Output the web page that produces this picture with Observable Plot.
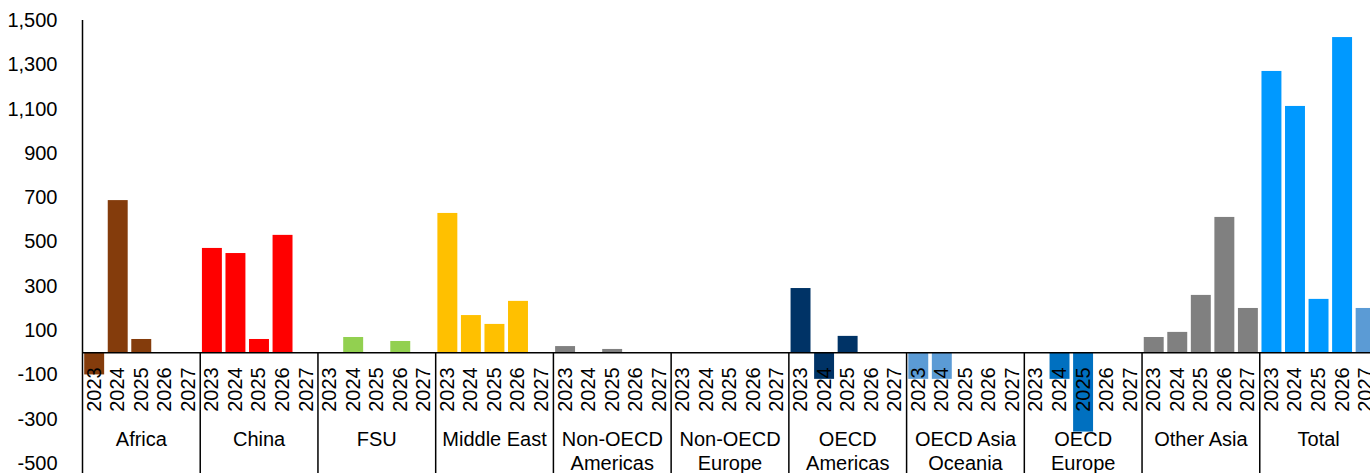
<!DOCTYPE html>
<html>
<head>
<meta charset="utf-8">
<script src="https://cdn.jsdelivr.net/npm/d3@7"></script>
<script src="https://cdn.jsdelivr.net/npm/@observablehq/plot@0.6"></script>
<style>
  html, body { margin: 0; padding: 0; background: #fff; overflow: hidden; }
  #chart svg { display: block; }
</style>
</head>
<body>
<div id="chart"></div>
<script>
const groups = ["Africa", "China", "FSU", "Middle East", "Non-OECD\nAmericas", "Non-OECD\nEurope",
  "OECD\nAmericas", "OECD Asia\nOceania", "OECD\nEurope", "Other Asia", "Total"];
const years = ["2023", "2024", "2025", "2026", "2027"];

const africa = [-100, 687, 60, 0, 0];
const china = [471, 448, 60, 530, 0];
const fsu = [0, 69, 0, 51, 0];
const middleEast = [629, 168, 128, 232, 0];
const nonOecdAmericas = [28, 0, 15, 0, 0];
const nonOecdEurope = [0, 0, 0, 0, 0];
const oecdAmericas = [290, -120, 74, 0, 0];
const oecdAsiaOceania = [-120, -120, 0, 0, 0];
const oecdEurope = [0, -120, -358, 0, 0];
const otherAsia = [69, 92, 259, 611, 200];
const total = [1270, 1112, 241, 1423, 200];

const groupColors = ["#843C0C", "#FF0000", "#92D050", "#FFC000", "#808080", "#808080",
  "#003366", "#5B9BD5", "#0070C0", "#808080", "#0099FF"];
const totalLastColor = "#5B9BD5";

const yTicks = [-500, -300, -100, 100, 300, 500, 700, 900, 1100, 1300, 1500];
const yDomain = [-545, 1500];

const series = [africa, china, fsu, middleEast, nonOecdAmericas, nonOecdEurope,
  oecdAmericas, oecdAsiaOceania, oecdEurope, otherAsia, total];

const rows = [];
groups.forEach((g, i) => {
  years.forEach((yr, j) => {
    rows.push({group: g, gi: i, year: yr, value: series[i][j], pos: i * years.length + j,
      color: (g === "Total" && j === years.length - 1) ? totalLastColor : groupColors[i]});
  });
});
const groupRows = groups.map((g, i) => ({group: g, start: i * years.length, mid: i * years.length + years.length / 2}));

const n = groups.length * years.length;

const chart = Plot.plot({
  width: 1370,
  height: 473,
  marginTop: 20,
  marginBottom: 0,
  marginLeft: 82,
  marginRight: 0,
  style: {fontFamily: "'Liberation Sans', Arial, sans-serif", fontSize: "20px", color: "#000", background: "#fff"},
  x: {type: "linear", domain: [0, n], range: [82, 1377], axis: null},
  y: {domain: yDomain, axis: null},
  color: {type: "identity"},
  marks: [
    Plot.rect(rows, {x1: "pos", x2: d => d.pos + 1, y1: 0, y2: "value", fill: "color", insetLeft: 2.2, insetRight: 1.4}),
    Plot.text(rows, {x: d => d.pos + 0.5, y: 0, text: "year", rotate: -90, textAnchor: "start", lineAnchor: "middle",
      dy: 59, fontSize: 20, fill: "#000"}),
    Plot.text(groupRows, {x: "mid", y: 0, text: "group", lineAnchor: "top", dy: 76, fontSize: 20, lineHeight: 1.2, fill: "#000"}),
    Plot.ruleX(groupRows.slice(1), {x: "start", y1: 0, y2: yDomain[0], stroke: "#000", strokeWidth: 1.5}),
    Plot.ruleX([0], {stroke: "#000", strokeWidth: 1.5}),
    Plot.ruleY([0], {stroke: "#000", strokeWidth: 1.5}),
    Plot.axisY({ticks: yTicks, tickSize: 0, tickPadding: 25, fontSize: 20, label: null,
      tickFormat: d => d.toLocaleString("en-US"), fill: "#000"})
  ]
});
document.getElementById("chart").appendChild(chart);
</script>
</body>
</html>
